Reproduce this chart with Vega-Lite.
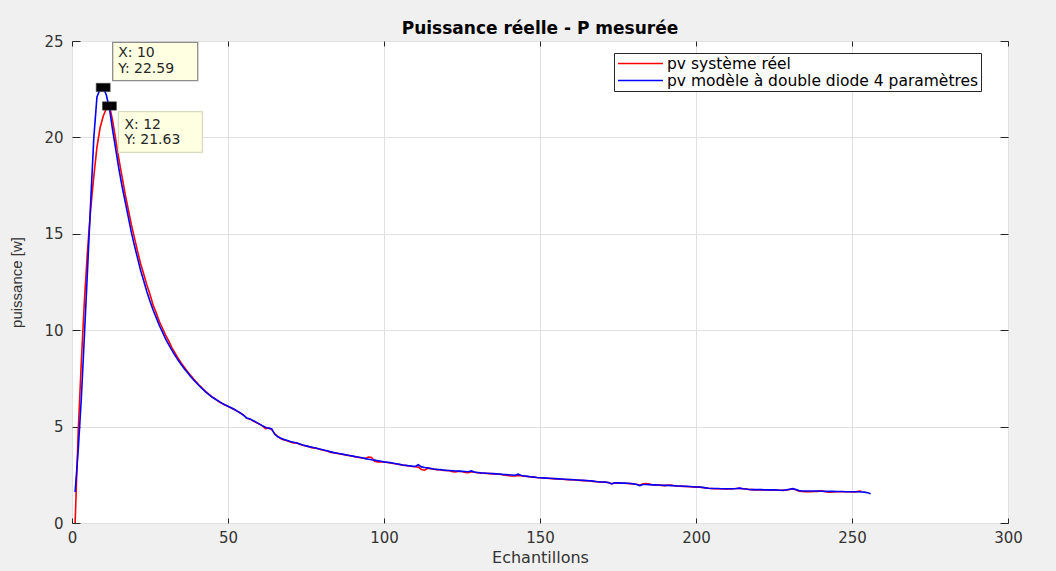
{
  "$schema": "https://vega.github.io/schema/vega-lite/v6.json",
  "width": 936,
  "height": 482,
  "autosize": {"type": "none"},
  "padding": {"left": 72, "top": 41, "right": 48, "bottom": 48},
  "background": "#f0f0f0",
  "view": {"fill": "white", "stroke": "#262626", "strokeWidth": 1},
  "title": {"text": "Puissance réelle - P mesurée", "font": "DejaVu Sans", "fontSize": 17, "fontWeight": "bold", "color": "#000000", "offset": -4, "anchor": "middle"},
  "datasets": {
    "mesures": [
      {"n":1,"modele":1.6,"reel":0},{"n":2,"modele":3.8,"reel":4.8},{"n":3,"modele":6.5,"reel":8.4},{"n":4,"modele":9.8,"reel":11.6},{"n":5,"modele":13.2,"reel":14.2},
      {"n":6,"modele":16.7,"reel":16.3},{"n":7,"modele":20.0,"reel":18.0},{"n":8,"modele":22.1,"reel":19.5},{"n":9,"modele":22.5,"reel":20.5},{"n":10,"modele":22.59,"reel":21.1},
      {"n":11,"modele":22.2,"reel":21.5},{"n":12,"modele":21.5,"reel":21.63},{"n":13,"modele":20.4,"reel":20.9},{"n":14,"modele":19.4,"reel":19.9},{"n":15,"modele":18.4,"reel":18.9},
      {"n":16,"modele":17.5,"reel":18.0},{"n":17,"modele":16.7,"reel":17.1},{"n":18,"modele":15.9,"reel":16.3},{"n":19,"modele":15.1,"reel":15.5},{"n":20,"modele":14.4,"reel":14.8},
      {"n":21,"modele":13.75,"reel":14.1},{"n":22,"modele":13.1,"reel":13.45},{"n":23,"modele":12.55,"reel":12.9},{"n":24,"modele":12.0,"reel":12.35},{"n":25,"modele":11.5,"reel":11.85},
      {"n":26,"modele":11.05,"reel":11.3},{"n":27,"modele":10.65,"reel":10.9},{"n":28,"modele":10.25,"reel":10.45},{"n":29,"modele":9.9,"reel":10.1},{"n":30,"modele":9.55,"reel":9.75},
      {"n":31,"modele":9.25,"reel":9.45},{"n":32,"modele":8.97,"reel":9.1},{"n":33,"modele":8.7,"reel":8.82},{"n":34,"modele":8.45,"reel":8.55},{"n":35,"modele":8.22,"reel":8.3},
      {"n":36,"modele":8.0,"reel":8.08},{"n":37,"modele":7.8,"reel":7.86},{"n":38,"modele":7.6,"reel":7.66},{"n":39,"modele":7.42,"reel":7.47},{"n":40,"modele":7.25,"reel":7.29},
      {"n":41,"modele":7.08,"reel":7.11},{"n":42,"modele":6.93,"reel":6.95},{"n":43,"modele":6.78,"reel":6.8},{"n":44,"modele":6.64,"reel":6.66},{"n":45,"modele":6.52,"reel":6.53},
      {"n":46,"modele":6.42,"reel":6.43},{"n":47,"modele":6.32,"reel":6.3},{"n":48,"modele":6.22,"reel":6.21},{"n":49,"modele":6.13,"reel":6.12},{"n":50,"modele":6.06,"reel":6.05},
      {"n":51,"modele":5.98,"reel":5.96},{"n":52,"modele":5.9,"reel":5.88},{"n":53,"modele":5.8,"reel":5.79},{"n":54,"modele":5.7,"reel":5.71},{"n":55,"modele":5.58,"reel":5.6},
      {"n":56,"modele":5.45,"reel":5.43},{"n":57,"modele":5.4,"reel":5.4},{"n":58,"modele":5.32,"reel":5.3},{"n":59,"modele":5.23,"reel":5.21},{"n":60,"modele":5.14,"reel":5.13},
      {"n":61,"modele":5.05,"reel":5.04},{"n":62,"modele":4.97,"reel":4.9},{"n":63,"modele":4.92,"reel":4.93},{"n":64,"modele":4.88,"reel":4.86},{"n":65,"modele":4.6,"reel":4.62},
      {"n":66,"modele":4.47,"reel":4.48},{"n":67,"modele":4.39,"reel":4.37},{"n":68,"modele":4.33,"reel":4.3},{"n":69,"modele":4.28,"reel":4.27},{"n":70,"modele":4.23,"reel":4.2},
      {"n":71,"modele":4.19,"reel":4.15},{"n":72,"modele":4.15,"reel":4.16},{"n":73,"modele":4.1,"reel":4.09},{"n":74,"modele":4.04,"reel":4.03},{"n":75,"modele":4.0,"reel":3.99},
      {"n":76,"modele":3.96,"reel":3.95},{"n":77,"modele":3.93,"reel":3.89},{"n":78,"modele":3.89,"reel":3.9},{"n":79,"modele":3.85,"reel":3.84},{"n":80,"modele":3.81,"reel":3.8},
      {"n":81,"modele":3.77,"reel":3.76},{"n":82,"modele":3.73,"reel":3.72},{"n":83,"modele":3.69,"reel":3.66},{"n":84,"modele":3.65,"reel":3.64},{"n":85,"modele":3.62,"reel":3.61},
      {"n":86,"modele":3.59,"reel":3.58},{"n":87,"modele":3.56,"reel":3.55},{"n":88,"modele":3.53,"reel":3.52},{"n":89,"modele":3.5,"reel":3.49},{"n":90,"modele":3.47,"reel":3.46},
      {"n":91,"modele":3.44,"reel":3.43},{"n":92,"modele":3.41,"reel":3.4},{"n":93,"modele":3.38,"reel":3.37},{"n":94,"modele":3.34,"reel":3.35},{"n":95,"modele":3.31,"reel":3.42},
      {"n":96,"modele":3.28,"reel":3.4},{"n":97,"modele":3.26,"reel":3.2},{"n":98,"modele":3.23,"reel":3.17},{"n":99,"modele":3.2,"reel":3.17},{"n":100,"modele":3.17,"reel":3.16},
      {"n":101,"modele":3.15,"reel":3.14},{"n":102,"modele":3.13,"reel":3.12},{"n":103,"modele":3.1,"reel":3.09},{"n":104,"modele":3.07,"reel":3.06},{"n":105,"modele":3.04,"reel":3.03},
      {"n":106,"modele":3.01,"reel":3.0},{"n":107,"modele":2.99,"reel":2.98},{"n":108,"modele":2.97,"reel":2.96},{"n":109,"modele":2.95,"reel":2.93},{"n":110,"modele":2.93,"reel":2.92},
      {"n":111,"modele":3.02,"reel":2.9},{"n":112,"modele":2.91,"reel":2.78},{"n":113,"modele":2.88,"reel":2.74},{"n":114,"modele":2.86,"reel":2.84},{"n":115,"modele":2.83,"reel":2.82},
      {"n":116,"modele":2.8,"reel":2.79},{"n":117,"modele":2.78,"reel":2.77},{"n":118,"modele":2.77,"reel":2.76},{"n":119,"modele":2.75,"reel":2.73},{"n":120,"modele":2.73,"reel":2.72},
      {"n":121,"modele":2.72,"reel":2.71},{"n":122,"modele":2.71,"reel":2.66},{"n":123,"modele":2.7,"reel":2.65},{"n":124,"modele":2.69,"reel":2.68},{"n":125,"modele":2.68,"reel":2.67},
      {"n":126,"modele":2.67,"reel":2.62},{"n":127,"modele":2.66,"reel":2.61},{"n":128,"modele":2.7,"reel":2.66},{"n":129,"modele":2.64,"reel":2.63},{"n":130,"modele":2.62,"reel":2.61},
      {"n":131,"modele":2.6,"reel":2.59},{"n":132,"modele":2.59,"reel":2.58},{"n":133,"modele":2.58,"reel":2.57},{"n":134,"modele":2.57,"reel":2.56},{"n":135,"modele":2.56,"reel":2.55},
      {"n":136,"modele":2.55,"reel":2.54},{"n":137,"modele":2.54,"reel":2.53},{"n":138,"modele":2.52,"reel":2.5},{"n":139,"modele":2.51,"reel":2.48},{"n":140,"modele":2.5,"reel":2.45},
      {"n":141,"modele":2.49,"reel":2.44},{"n":142,"modele":2.48,"reel":2.44},{"n":143,"modele":2.53,"reel":2.47},{"n":144,"modele":2.46,"reel":2.45},{"n":145,"modele":2.44,"reel":2.43},
      {"n":146,"modele":2.42,"reel":2.41},{"n":147,"modele":2.4,"reel":2.39},{"n":148,"modele":2.38,"reel":2.38},{"n":149,"modele":2.36,"reel":2.36},{"n":150,"modele":2.35,"reel":2.35},
      {"n":151,"modele":2.34,"reel":2.33},{"n":152,"modele":2.33,"reel":2.32},{"n":153,"modele":2.32,"reel":2.31},{"n":154,"modele":2.31,"reel":2.3},{"n":155,"modele":2.3,"reel":2.29},
      {"n":156,"modele":2.29,"reel":2.28},{"n":157,"modele":2.28,"reel":2.27},{"n":158,"modele":2.27,"reel":2.26},{"n":159,"modele":2.26,"reel":2.25},{"n":160,"modele":2.25,"reel":2.24},
      {"n":161,"modele":2.24,"reel":2.23},{"n":162,"modele":2.23,"reel":2.22},{"n":163,"modele":2.22,"reel":2.21},{"n":164,"modele":2.21,"reel":2.2},{"n":165,"modele":2.2,"reel":2.19},
      {"n":166,"modele":2.19,"reel":2.18},{"n":167,"modele":2.17,"reel":2.16},{"n":168,"modele":2.15,"reel":2.14},{"n":169,"modele":2.13,"reel":2.13},{"n":170,"modele":2.13,"reel":2.12},
      {"n":171,"modele":2.12,"reel":2.11},{"n":172,"modele":2.1,"reel":2.09},{"n":173,"modele":2.03,"reel":2.04},{"n":174,"modele":2.09,"reel":2.08},{"n":175,"modele":2.08,"reel":2.07},
      {"n":176,"modele":2.07,"reel":2.06},{"n":177,"modele":2.07,"reel":2.06},{"n":178,"modele":2.06,"reel":2.05},{"n":179,"modele":2.05,"reel":2.04},{"n":180,"modele":2.03,"reel":2.02},
      {"n":181,"modele":2.0,"reel":2.01},{"n":182,"modele":1.94,"reel":1.96},{"n":183,"modele":2.0,"reel":2.03},{"n":184,"modele":2.0,"reel":2.04},{"n":185,"modele":1.99,"reel":2.02},
      {"n":186,"modele":1.98,"reel":1.98},{"n":187,"modele":1.98,"reel":1.97},{"n":188,"modele":1.97,"reel":1.96},{"n":189,"modele":1.96,"reel":1.95},{"n":190,"modele":1.95,"reel":1.94},
      {"n":191,"modele":1.95,"reel":1.96},{"n":192,"modele":1.94,"reel":1.97},{"n":193,"modele":1.93,"reel":1.93},{"n":194,"modele":1.92,"reel":1.91},{"n":195,"modele":1.92,"reel":1.91},
      {"n":196,"modele":1.91,"reel":1.9},{"n":197,"modele":1.9,"reel":1.89},{"n":198,"modele":1.89,"reel":1.88},{"n":199,"modele":1.88,"reel":1.87},{"n":200,"modele":1.87,"reel":1.86},
      {"n":201,"modele":1.87,"reel":1.86},{"n":202,"modele":1.85,"reel":1.84},{"n":203,"modele":1.82,"reel":1.82},{"n":204,"modele":1.8,"reel":1.8},{"n":205,"modele":1.79,"reel":1.79},
      {"n":206,"modele":1.79,"reel":1.78},{"n":207,"modele":1.79,"reel":1.78},{"n":208,"modele":1.78,"reel":1.78},{"n":209,"modele":1.78,"reel":1.77},{"n":210,"modele":1.78,"reel":1.77},
      {"n":211,"modele":1.78,"reel":1.77},{"n":212,"modele":1.78,"reel":1.78},{"n":213,"modele":1.79,"reel":1.79},{"n":214,"modele":1.81,"reel":1.8},{"n":215,"modele":1.78,"reel":1.78},
      {"n":216,"modele":1.76,"reel":1.76},{"n":217,"modele":1.74,"reel":1.74},{"n":218,"modele":1.73,"reel":1.73},{"n":219,"modele":1.73,"reel":1.72},{"n":220,"modele":1.73,"reel":1.72},
      {"n":221,"modele":1.73,"reel":1.72},{"n":222,"modele":1.72,"reel":1.72},{"n":223,"modele":1.72,"reel":1.71},{"n":224,"modele":1.72,"reel":1.71},{"n":225,"modele":1.72,"reel":1.71},
      {"n":226,"modele":1.71,"reel":1.7},{"n":227,"modele":1.7,"reel":1.7},{"n":228,"modele":1.7,"reel":1.69},{"n":229,"modele":1.72,"reel":1.71},{"n":230,"modele":1.75,"reel":1.74},
      {"n":231,"modele":1.78,"reel":1.77},{"n":232,"modele":1.74,"reel":1.72},{"n":233,"modele":1.68,"reel":1.65},{"n":234,"modele":1.66,"reel":1.63},{"n":235,"modele":1.66,"reel":1.62},
      {"n":236,"modele":1.66,"reel":1.62},{"n":237,"modele":1.66,"reel":1.62},{"n":238,"modele":1.66,"reel":1.63},{"n":239,"modele":1.66,"reel":1.64},{"n":240,"modele":1.65,"reel":1.68},
      {"n":241,"modele":1.65,"reel":1.64},{"n":242,"modele":1.64,"reel":1.61},{"n":243,"modele":1.64,"reel":1.6},{"n":244,"modele":1.64,"reel":1.61},{"n":245,"modele":1.63,"reel":1.62},
      {"n":246,"modele":1.63,"reel":1.62},{"n":247,"modele":1.63,"reel":1.62},{"n":248,"modele":1.62,"reel":1.62},{"n":249,"modele":1.62,"reel":1.62},{"n":250,"modele":1.62,"reel":1.61},
      {"n":251,"modele":1.62,"reel":1.61},{"n":252,"modele":1.62,"reel":1.64},{"n":253,"modele":1.61,"reel":1.66},{"n":254,"modele":1.6},{"n":255,"modele":1.57},
      {"n":256,"modele":1.52}
    ],
    "curseurs": [
      {"n":10,"p":22.59,"lignes":["X: 10","Y: 22.59"],"position":"haut"},
      {"n":12,"p":21.63,"lignes":["X: 12","Y: 21.63"],"position":"bas"}
    ]
  },
  "layer": [
    {
      "data": {"name": "mesures"},
      "transform": [
        {"fold": ["reel", "modele"], "as": ["serie", "p"]},
        {"filter": "isValid(datum.p)"}
      ],
      "mark": {"type": "line", "strokeWidth": 1.6},
      "encoding": {
        "x": {
          "field": "n", "type": "quantitative",
          "scale": {"domain": [0, 300], "nice": false},
          "axis": {
            "values": [0, 50, 100, 150, 200, 250, 300],
            "title": "Echantillons", "titleFont": "DejaVu Sans", "titleFontSize": 16, "titleFontWeight": "normal", "titleColor": "#333333", "titlePadding": 4,
            "labelFont": "DejaVu Sans", "labelFontSize": 15, "labelColor": "#333333", "labelPadding": 12, "labelFlush": false,
            "grid": true, "gridColor": "#e1e1e1", "gridWidth": 1,
            "domain": false, "tickSize": -5, "tickColor": "#262626", "tickWidth": 1
          }
        },
        "y": {
          "field": "p", "type": "quantitative",
          "scale": {"domain": [0, 25], "nice": false},
          "axis": {
            "values": [0, 5, 10, 15, 20, 25],
            "title": "puissance [w]", "titleFont": "Liberation Sans", "titleFontSize": 15, "titleFontWeight": "normal", "titleColor": "#333333", "titlePadding": 19,
            "labelFont": "DejaVu Sans", "labelFontSize": 15, "labelColor": "#333333", "labelPadding": 17, "labelFlush": false,
            "grid": true, "gridColor": "#e1e1e1", "gridWidth": 1,
            "domain": false, "tickSize": -8, "tickColor": "#262626", "tickWidth": 1
          }
        },
        "color": {
          "field": "serie", "type": "nominal",
          "scale": {"domain": ["reel", "modele"], "range": ["#ff0000", "#0000ff"]},
          "legend": {
            "orient": "none", "legendX": 542, "legendY": 12, "title": null, "direction": "vertical",
            "labelExpr": "datum.value == 'reel' ? 'pv système réel' : 'pv modèle à double diode 4 paramètres'",
            "labelFont": "DejaVu Sans", "labelFontSize": 15.5, "labelColor": "#000000", "labelLimit": 0,
            "symbolType": "M-3,0H3", "symbolSize": 225, "symbolStrokeWidth": 1.5, "symbolOffset": 16, "labelOffset": 18,
            "fillColor": "#ffffff", "strokeColor": "#262626", "padding": 2, "rowPadding": -7
          }
        }
      }
    },
    {
      "data": {"name": "curseurs"},
      "mark": {"type": "point", "opacity": 0},
      "encoding": {
        "x": {"field": "n", "type": "quantitative", "axis": {"orient": "top", "values": [0, 50, 100, 150, 200, 250, 300], "labels": false, "title": null, "grid": false, "domain": false, "tickSize": -5, "tickColor": "#262626"}},
        "y": {"field": "p", "type": "quantitative", "axis": {"orient": "right", "values": [0, 5, 10, 15, 20, 25], "labels": false, "title": null, "grid": false, "domain": false, "tickSize": -8, "tickColor": "#262626"}}
      }
    },
    {
      "data": {"name": "curseurs"},
      "mark": {"type": "point", "shape": "M-1,-0.6H1V0.6H-1Z", "size": 196, "filled": true, "fill": "#000000", "opacity": 1, "stroke": "#4d4d4d", "strokeWidth": 0.6},
      "encoding": {
        "x": {"field": "n", "type": "quantitative", "axis": null},
        "y": {"field": "p", "type": "quantitative", "axis": null}
      }
    },
    {
      "data": {"name": "curseurs"},
      "transform": [{"filter": "datum.position == 'haut'"}],
      "layer": [
        {
          "mark": {"type": "point", "shape": "M-1,-0.45H1V0.45H-1Z", "size": 7225, "filled": true, "fill": "#ffffe1", "opacity": 1, "stroke": "#8c8c8c", "strokeWidth": 1.3, "xOffset": 52, "yOffset": -26}
        },
        {
          "mark": {"type": "text", "align": "left", "baseline": "middle", "font": "DejaVu Sans", "fontSize": 14, "color": "#262626", "lineHeight": 16, "xOffset": 15, "yOffset": -34},
          "encoding": {"text": {"field": "lignes"}}
        }
      ],
      "encoding": {
        "x": {"field": "n", "type": "quantitative", "axis": null},
        "y": {"field": "p", "type": "quantitative", "axis": null}
      }
    },
    {
      "data": {"name": "curseurs"},
      "transform": [{"filter": "datum.position == 'bas'"}],
      "layer": [
        {
          "mark": {"type": "point", "shape": "M-1,-0.485H1V0.485H-1Z", "size": 7056, "filled": true, "fill": "#ffffe1", "opacity": 1, "stroke": "#d9d9c0", "strokeWidth": 1.3, "xOffset": 51, "yOffset": 26}
        },
        {
          "mark": {"type": "text", "align": "left", "baseline": "middle", "font": "DejaVu Sans", "fontSize": 14, "color": "#262626", "lineHeight": 15.5, "xOffset": 15, "yOffset": 19},
          "encoding": {"text": {"field": "lignes"}}
        }
      ],
      "encoding": {
        "x": {"field": "n", "type": "quantitative", "axis": null},
        "y": {"field": "p", "type": "quantitative", "axis": null}
      }
    }
  ],
  "resolve": {"axis": {"x": "independent", "y": "independent"}}
}
